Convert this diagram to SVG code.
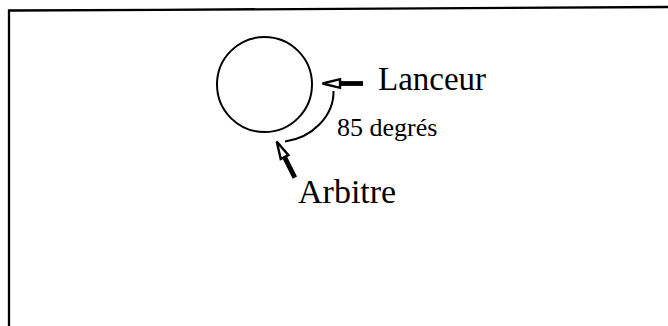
<svg xmlns="http://www.w3.org/2000/svg" width="668" height="326" viewBox="0 0 668 326">
  <style>
    .label { font-family: "Liberation Serif", "Times New Roman", serif; fill: #000; }
    .big { font-size: 33px; }
    .small { font-size: 26px; }
    .line { fill: none; stroke: #000; }
  </style>
  <defs>
    <!-- arrow pointing toward local origin, tail along +x -->
    <g id="arrow">
      <rect x="16" y="-2.4" width="25" height="4.8" fill="#000"/>
      <polygon points="0.5,0 18,-4.3 18,4.3" fill="#fff" stroke="#000" stroke-width="2.4" stroke-linejoin="miter"/>
    </g>
  </defs>
  <rect width="668" height="326" fill="#fff"/>

  <!-- frame -->
  <path class="line" d="M9,326 L9,10.5 L160,9.8 L668,7" stroke-width="2.3"/>

  <g id="ball">
    <circle class="line" cx="264.5" cy="84.5" r="47.5" stroke-width="2"/>
  </g>

  <g id="connectors">
    <path id="angle-arc" class="line" d="M333.5,91 C334,116 312,138 285,141.5" stroke-width="2"/>
    <use id="arrow-lanceur" href="#arrow" transform="translate(322,83.5)"/>
    <use id="arrow-arbitre" href="#arrow" transform="translate(276.5,141) rotate(63.4)"/>
  </g>

  <g id="lanceur">
    <text class="label big" x="378" y="90">Lanceur</text>
  </g>
  <g id="angle">
    <text class="label small" x="337" y="136">85 degrés</text>
  </g>
  <g id="arbitre">
    <text class="label big" x="298" y="203" style="font-size:34px">Arbitre</text>
  </g>
</svg>
